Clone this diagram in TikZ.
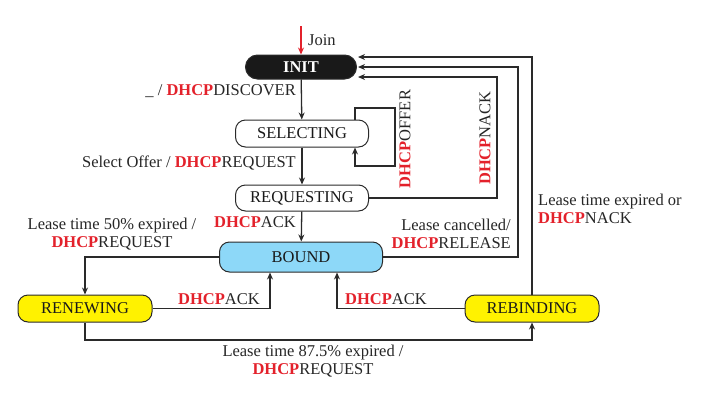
\documentclass[tikz,border=0pt]{standalone}
\usepackage{fontspec}
\setmainfont{Liberation Serif}
\usetikzlibrary{arrows.meta,calc,shapes.misc}
\definecolor{dred}{HTML}{E3212B}
\definecolor{lgray}{HTML}{2A2A2A}
\definecolor{bblue}{HTML}{8DD8F8}
\definecolor{yyel}{HTML}{FFF200}
\newcommand{\dhcpw}{\textbf{\textcolor{dred}{DHCP}}}
\tikzset{
  state/.style={rectangle, rounded corners=10pt, draw=lgray, line width=1pt, minimum height=27pt, inner sep=0pt, font=\fontsize{16.5}{19}\selectfont, text=black!90},
  initstate/.style={rounded rectangle, sharp corners, draw=lgray, line width=1pt, fill=black!90, text=white, inner sep=0pt, font=\fontsize{16.5}{19}\selectfont\bfseries},
  arr/.style={draw=lgray, line width=1.3pt, -{Stealth[length=7pt,width=6pt]}},
  lbl/.style={font=\fontsize{16.5}{18}\selectfont, inner sep=0pt, text=black!85},
}
\begin{document}
\begin{tikzpicture}[x=1pt,y=-1pt]
\useasboundingbox (0,0) rectangle (709,413);
% states
\node[initstate, minimum width=111pt, minimum height=24pt] (init) at (301,67) {INIT};
\node[state, fill=white, minimum width=133pt] (selecting) at (302,133.5) {SELECTING};
\node[state, fill=white, minimum width=133pt, minimum height=26pt] (requesting) at (302,198) {REQUESTING};
\node[state, fill=bblue, minimum width=163pt, minimum height=30pt] (bound) at (301,257) {BOUND};
\node[state, fill=yyel, minimum width=134pt] (renewing) at (85,308.5) {RENEWING};
\node[state, fill=yyel, minimum width=134pt] (rebinding) at (532,308.5) {REBINDING};
% helper coordinates
\coordinate (joinstart) at (301,26);
\coordinate (lt) at (355,108);
\coordinate (rb) at (395,166);
\coordinate (nackx) at (497,77);
\coordinate (relx) at (518,67);
\coordinate (rebx) at (532,57);
\coordinate (in1) at ($(init.east)+(1,-10)$);
\coordinate (in2) at ($(init.east)+(1,0)$);
\coordinate (in3) at ($(init.east)+(1,10)$);
\coordinate (ackl) at (270,0);
\coordinate (ackr) at (337,0);
\coordinate (bot) at (0,340);
% connectors
\draw[arr, draw=dred] (joinstart) -- (init.north);
\draw[arr] (init) -- (selecting);
\draw[arr] (selecting.north -| lt) -- (lt) -| (rb) -| (selecting.south -| lt);
\draw[arr] (selecting) -- (requesting);
\draw[arr] (requesting) -- (bound);
\draw[arr] (requesting.east) -| (nackx) -- (in3);
\draw[arr] (bound.east) -| (relx) -- (in2);
\draw[arr] (rebinding.north) -- (rebx) -- (in1);
\draw[arr] (bound.west) -| (renewing.north);
\draw[arr] (renewing.east) -| (bound.south -| ackl);
\draw[arr] (rebinding.west) -| (bound.south -| ackr);
\draw[arr] (renewing.south) |- (bot -| rebinding.south) -- (rebinding.south);
% labels
\node[lbl, anchor=west] (ljoin) at (308,40) {Join};
\node[lbl, anchor=east] (ldisc) at (296,91) {\_ / \dhcpw DISCOVER};
\node[lbl, anchor=east] (lsel) at (296,163) {Select Offer / \dhcpw REQUEST};
\node[lbl, anchor=east] (lack1) at (296,222) {\dhcpw ACK};
\node[lbl, align=center] (l50) at (112,234) {Lease time 50\% expired /\\\dhcpw REQUEST};
\node[lbl, align=right, anchor=east] (lcanc) at (511,234) {Lease cancelled/\\\dhcpw RELEASE};
\node[lbl, align=left, anchor=west] (lexp) at (538,209) {Lease time expired or\\\dhcpw NACK};
\node[lbl] (lack2) at (219,299) {\dhcpw ACK};
\node[lbl] (lack3) at (386,299) {\dhcpw ACK};
\node[lbl, align=center] (l875) at (313,361) {Lease time 87.5\% expired /\\\dhcpw REQUEST};
\node[lbl, rotate=90] (loffer) at (405,139) {\dhcpw OFFER};
\node[lbl, rotate=90] (lnack) at (485,138) {\dhcpw NACK};
\end{tikzpicture}
\end{document}
